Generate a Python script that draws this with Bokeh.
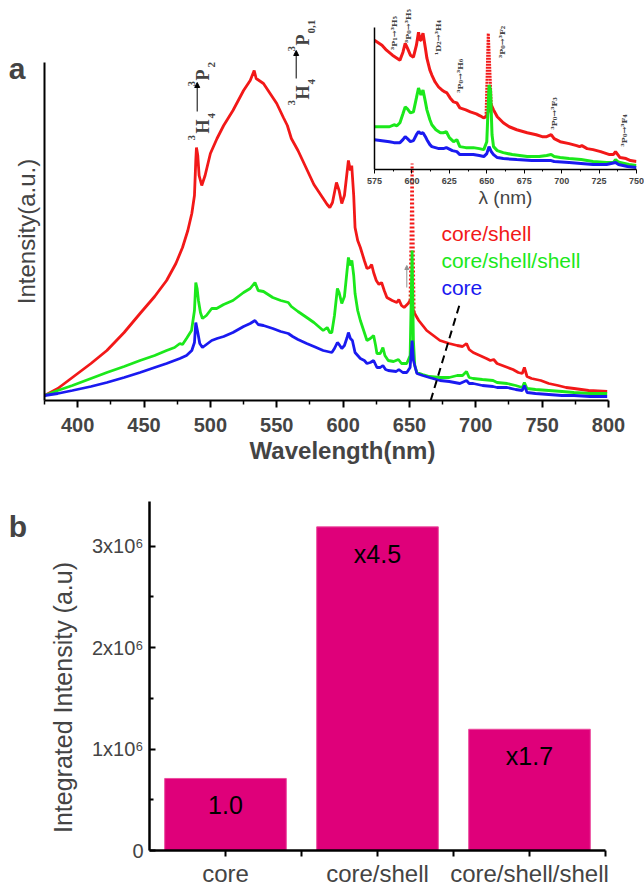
import math
from bokeh.plotting import figure
from bokeh.models import Range1d, FixedTicker, Label, Arrow, NormalHead
from bokeh.embed import file_html
from bokeh.resources import INLINE
from bokeh.core.properties import value

# ---------------- data: panel a (main spectra) ----------------
red_x = [375, 385, 396, 410, 422, 435, 447, 458, 467, 474, 479, 483, 486, 488, 489, 489.5, 490.5, 491.5, 493.5, 496,
         500, 505, 510, 517, 525, 530, 533, 534.5, 540, 545, 550, 555, 558, 561, 566, 572, 578, 585, 588, 590,
         592, 595, 597, 599, 601, 604, 605.5, 606.5, 608, 609, 611, 613, 616, 618, 620, 621.5, 623, 625, 627, 629,
         631, 633, 637, 640.5, 642, 644, 646, 649, 650.5, 653.5, 657, 660, 663, 668, 673, 680, 686, 690, 693, 695,
         698, 703, 708, 711, 713.5, 716, 720, 724, 728, 732, 735, 736.6, 738.6, 742, 749, 755, 762, 768, 774, 785, 799]
red_y = [5, 12, 23, 37, 50, 68, 87, 104, 120, 137, 153, 170, 187, 205, 240, 253, 245, 225, 215, 225,
         247, 262, 275, 290, 310, 320, 330, 322, 317, 307, 297, 283, 275, 262, 250, 233, 216, 202, 196, 193,
         198, 218, 210, 197, 205, 240, 230, 235, 205, 173, 160, 153, 140, 132, 133, 136, 128, 120, 116, 118,
         110, 103, 100, 98, 101, 95, 93, 97, 100, 88, 80, 75, 70, 65, 60, 57, 55, 54, 57, 51,
         48, 45, 42, 40, 41, 37, 35, 33, 31, 28, 27, 33, 24, 22, 20, 17, 15, 13, 12, 10, 9]
red_spike_x = [650.5, 652, 653.5]
red_spike_y = [100, 237, 88]

green_x = [375, 385, 396, 410, 422, 435, 447, 458, 467, 473, 477, 479, 482, 485.8, 488, 489, 490, 491, 492.5, 494,
           497, 501, 504.7, 510, 517, 525, 530, 533.6, 536, 540, 547, 553, 558.7, 561, 566, 572.6, 578, 585, 588, 590,
           591.5, 593.5, 595.7, 597, 599, 601, 603, 604, 605.5, 606.6, 608, 609, 611, 613, 615, 618, 620.5, 623, 624.5, 625.5,
           628, 630, 631.5, 634, 638, 641.7, 644, 648, 650.5, 652, 653, 654, 655.6, 660, 665, 673, 680, 686, 690, 693,
           695, 698, 705, 713, 716, 723.6, 730, 735, 736.6, 738.6, 745, 755, 765, 774, 786, 799]
green_y = [5, 10, 15, 22, 28, 34, 40, 45, 50, 53, 57, 56, 62, 70, 90, 118, 112, 100, 88, 82,
           85, 92, 92, 96, 100, 108, 112, 118, 110, 109, 103, 100, 98, 94, 89, 83, 78, 70, 73, 68,
           68, 85, 112, 108, 97, 104, 130, 143, 135, 140, 125, 107, 90, 80, 72, 60, 62, 65, 55, 47,
           47, 53, 45, 40, 39, 41, 37, 37, 45, 150, 60, 35, 28, 26, 24, 23, 23, 25, 25, 29,
           23, 22, 21, 20, 18, 17, 15, 13, 18, 12, 11, 10, 9, 8, 7, 7]

blue_x = [375, 385, 396, 410, 422, 435, 447, 458, 467, 477, 482, 486, 488, 489, 490.5, 492, 494, 497, 501, 505,
          510, 517, 525, 530, 533.6, 536, 540, 547, 553, 558.7, 562, 566, 572.6, 578, 585, 591.5, 593.5, 595.7, 597, 599,
          601, 603, 604, 605.5, 607, 609, 611, 613, 616, 618, 620.5, 623, 625.5, 628, 630, 632, 634, 640, 642, 645,
          648, 650.5, 652, 653, 655.6, 660, 665, 673, 680, 688, 693, 695, 698, 705, 713, 716, 723.6, 730, 735, 736.6,
          738.6, 745, 755, 765, 774, 786, 799]
blue_y = [5, 7, 10, 14, 18, 23, 28, 33, 37, 42, 45, 50, 58, 78, 68, 57, 53, 56, 60, 62,
          64, 68, 74, 77, 80, 76, 75, 72, 69, 67, 64, 61, 57, 54, 50, 48, 52, 58, 56, 52,
          55, 63, 68, 62, 60, 48, 45, 42, 40, 37, 38, 40, 33, 33, 35, 31, 30, 29, 31, 28,
          28, 33, 60, 40, 27, 25, 23, 20, 19, 17, 20, 17, 17, 15, 14, 13, 13, 11, 10, 15,
          8, 7, 6, 5, 5, 4, 4]

dash_x = [666, 688]
dash_y = [0, 97]

x_ticks = [400, 450, 500, 550, 600, 650, 700, 750, 800]
x_minor = [375, 425, 475, 525, 575, 625, 675, 725, 775]

# ---------------- data: inset ----------------
ired_x = [575, 580, 583, 587, 590, 592, 594, 595.5, 597, 599, 601, 603, 604.4, 605.5, 606, 607.4, 609, 610, 612, 613.3,
          615.5, 617.8, 620, 622, 623.4, 625.5, 627.8, 630, 632, 636, 639, 641, 643, 645.5, 647.8, 649.5, 653, 654.5, 657, 661,
          665, 670, 677, 683, 687, 690, 693, 695, 699, 705, 710, 712, 713.5, 717, 721, 726, 732, 734.5, 736, 737.5,
          739, 743, 746, 750]
ired_y = [130, 125, 120, 115, 112, 110, 118, 127, 122, 115, 113, 125, 138, 130, 130, 137, 122, 112, 100, 95,
          88, 83, 80, 78, 77, 72, 68, 67, 62, 60, 58, 57, 56, 54, 52, 53, 65, 60, 53, 47,
          43, 40, 37, 35, 33, 33, 35, 31, 28, 26, 24, 23, 24, 21, 20, 18, 15, 15, 18, 15,
          12, 11, 9, 8]
ired_spike_x = [649.5, 651, 653]
ired_spike_y = [53, 137, 65]

igreen_x = [575, 580, 585, 588, 590, 592, 594, 595.5, 597, 599, 601, 603, 604.4, 606, 607.4, 609, 610, 612, 613.3, 616,
            619, 621, 623, 625, 627.8, 630, 632, 636, 641, 645, 648, 650, 651.5, 652.5, 653.5, 654.5, 657, 661, 667, 677,
            685, 690, 693, 695, 699, 705, 713, 721, 730, 734.5, 736, 737.5, 739, 745, 750]
igreen_y = [43, 43, 43, 45, 44, 47, 56, 63, 61, 57, 58, 72, 82, 75, 80, 68, 60, 50, 45, 40,
            37, 37, 38, 32, 28, 30, 23, 22, 22, 21, 20, 28, 85, 80, 35, 23, 19, 17, 15, 13,
            13, 14, 15, 13, 12, 11, 10, 8, 7, 7, 10, 8, 7, 5, 4]

iblue_x = [575, 580, 585, 588, 592, 594, 595.5, 597, 599, 601, 603, 604.4, 606, 607.4, 609, 610, 612, 613.3, 618, 621,
           623, 627, 630, 632, 637, 641, 645, 648, 650, 651.5, 653, 654.5, 657, 661, 670, 680, 690, 693, 695, 705,
           713, 721, 730, 736, 738, 744, 750]
iblue_y = [30, 29, 28, 27, 27, 30, 33, 31, 28, 29, 35, 38, 36, 37, 33, 30, 25, 23, 21, 21,
           22, 19, 18, 15, 15, 15, 14, 13, 16, 23, 18, 15, 12, 11, 10, 9, 9, 9, 8, 7,
           6, 5, 5, 7, 5, 3, 2]

inset_ticks = [575, 600, 625, 650, 675, 700, 725, 750]
inset_minor = [587.5, 612.5, 637.5, 662.5, 687.5, 712.5, 737.5]

# ---------------- data: panel b ----------------
categories = ["core", "core/shell", "core/shell/shell"]
integrated = [0.71e6, 3.19e6, 1.195e6]
bar_labels = ["1.0", "x4.5", "x1.7"]
y_tick_vals = [0, 1e6, 2e6, 3e6]
y_tick_labels = ["0", "1x10\u2076", "2x10\u2076", "3x10\u2076"]
y_minor_vals = [0.5e6, 1.5e6, 2.5e6]

RED = "#F21818"
GREEN = "#1BE81B"
BLUE = "#1A1AF0"
SANS = "Liberation Sans"
SERIF = "Liberation Serif"
ANG = math.pi / 2
PAGE_W, PAGE_H = 644, 889

# ======================= panel a =======================
p1 = figure(width=644, height=472, x_range=Range1d(375, 824.1), y_range=Range1d(0, 338),
            output_backend="svg", toolbar_location=None,
            min_border_left=44, min_border_right=4, min_border_top=62, min_border_bottom=72)
p1.outline_line_color = None
p1.grid.visible = False
p1.background_fill_alpha = 0
p1.border_fill_alpha = 0

xa = p1.xaxis[0]
xa.ticker = FixedTicker(ticks=x_ticks, minor_ticks=x_minor)
xa.bounds = (375, 800)
xa.axis_line_width = 2
xa.major_tick_line_width = 2
xa.minor_tick_line_width = 1.5
xa.major_tick_out = 7
xa.major_tick_in = 0
xa.minor_tick_out = 4
xa.minor_tick_in = 0
xa.major_label_text_font = SANS
xa.major_label_text_font_style = "bold"
xa.major_label_text_font_size = "20px"
xa.major_label_standoff = 10
xa.axis_label = "Wavelength(nm)"
xa.axis_label_text_font = SANS
xa.axis_label_text_font_style = "bold"
xa.axis_label_text_font_size = "24px"
xa.axis_label_standoff = 2

ya = p1.yaxis[0]
ya.ticker = FixedTicker(ticks=[])
ya.major_label_text_font_size = "0px"
ya.major_tick_out = 0
ya.minor_tick_out = 0
ya.axis_line_width = 2
ya.axis_label = "Intensity(a.u.)"
ya.axis_label_text_font = SANS
ya.axis_label_text_font_style = "normal"
ya.axis_label_text_font_size = "24px"
ya.axis_label_standoff = 5

p1.line(red_x, red_y, line_color=RED, line_width=2.8)
p1.line(red_spike_x, red_spike_y, line_color=RED, line_width=3, line_dash="2 2")
p1.line(green_x, green_y, line_color=GREEN, line_width=2.8)
p1.line(blue_x, blue_y, line_color=BLUE, line_width=2.8)
p1.line(dash_x, dash_y, line_color="black", line_width=2, line_dash="8 5")

p1.add_layout(Arrow(x_start=648, y_start=113, x_end=648, y_end=135, line_color="#909090", line_width=1,
                    end=NormalHead(size=4, fill_color="#909090", line_color="#909090")))

for txt, col, yy in [("core/shell", RED, 167), ("core/shell/shell", GREEN, 140), ("core", BLUE, 113)]:
    p1.add_layout(Label(x=674.1, y=yy, text=txt, text_color=col, text_font=SANS, text_font_size="21px",
                        text_align="left", text_baseline="middle"))

# ======================= inset =======================
p2 = figure(width=284, height=210, x_range=Range1d(575, 750), y_range=Range1d(0, 170),
            output_backend="svg", toolbar_location=None,
            min_border_left=14, min_border_right=8, min_border_top=0, min_border_bottom=40)
p2.outline_line_color = None
p2.grid.visible = False
p2.background_fill_alpha = 0
p2.border_fill_alpha = 0
p2.margin = (-472, 0, 0, 360)

ia = p2.xaxis[0]
ia.ticker = FixedTicker(ticks=inset_ticks, minor_ticks=inset_minor)
ia.axis_line_width = 1.5
ia.major_tick_out = 4
ia.major_tick_in = 0
ia.minor_tick_out = 2
ia.minor_tick_in = 0
ia.major_label_text_font = SANS
ia.major_label_text_font_style = "bold"
ia.major_label_text_font_size = "9px"
ia.major_label_standoff = 4
ia.axis_label = "\u03bb (nm)"
ia.axis_label_text_font = SANS
ia.axis_label_text_font_style = "normal"
ia.axis_label_text_font_size = "19px"
ia.axis_label_standoff = 0

iy = p2.yaxis[0]
iy.ticker = FixedTicker(ticks=[])
iy.bounds = (0, 143)
iy.major_label_text_font_size = "0px"
iy.major_tick_out = 0
iy.minor_tick_out = 0
iy.axis_line_width = 1.5

p2.line(ired_x, ired_y, line_color=RED, line_width=3)
p2.line(ired_spike_x, ired_spike_y, line_color=RED, line_width=3, line_dash="2 1")
p2.line(igreen_x, igreen_y, line_color=GREEN, line_width=3)
p2.line(iblue_x, iblue_y, line_color=BLUE, line_width=3)

inset_notes = [("\u00b3P\u2081\u2192\u00b3H\u2085", 587.8, 120),
               ("\u00b3P\u2080\u2192\u00b3H\u2085", 597.7, 127),
               ("\u00b9D\u2082\u2192\u00b3H\u2084", 617.2, 115),
               ("\u00b3P\u2080\u2192\u00b3H\u2086", 632.0, 77),
               ("\u00b3P\u2080\u2192\u00b3F\u2082", 660.3, 112),
               ("\u00b3P\u2080\u2192\u00b3F\u2083", 694.6, 40),
               ("\u00b3P\u2080\u2192\u00b3F\u2084", 741.7, 23)]
for txt, x, y in inset_notes:
    p2.add_layout(Label(x=x, y=y, text=txt, angle=ANG, text_font="DejaVu Serif", text_font_style="bold",
                        text_font_size="8px", text_align="left", text_baseline="alphabetic"))

# ======================= panel b =======================
bar_x = [i + 0.5 for i in range(len(categories))]
bnd = [float(i) for i in range(1, len(categories) + 1)]

p3 = figure(width=644, height=417, x_range=Range1d(0, len(categories)), y_range=Range1d(0, 3.44e6),
            output_backend="svg", toolbar_location=None,
            min_border_left=149, min_border_right=39, min_border_top=29, min_border_bottom=38)
p3.margin = (262, 0, 0, 0)
p3.outline_line_color = None
p3.grid.visible = False

p3.vbar(x=bar_x, top=integrated, width=0.8, fill_color="#DF007A", line_color="#EC4C9E", line_width=1)
p3.text(x=bar_x, y=integrated, text=bar_labels, text_align="center", text_baseline="middle",
        y_offset=27, text_font=value(SANS), text_font_size="25px", text_color="black")

bx = p3.xaxis[0]
bx.ticker = FixedTicker(ticks=bar_x, minor_ticks=bnd)
bx.major_label_overrides = {x: c for x, c in zip(bar_x, categories)}
bx.axis_line_width = 2.5
bx.major_tick_line_width = 2
bx.minor_tick_line_width = 2
bx.major_tick_out = 6
bx.major_tick_in = 0
bx.minor_tick_out = 6
bx.minor_tick_in = 0
bx.major_label_text_font = SANS
bx.major_label_text_font_style = "normal"
bx.major_label_text_font_size = "24px"
bx.major_label_standoff = 3

by = p3.yaxis[0]
by.ticker = FixedTicker(ticks=y_tick_vals, minor_ticks=y_minor_vals)
by.major_label_overrides = {v: t for v, t in zip(y_tick_vals, y_tick_labels)}
by.axis_line_width = 2.5
by.major_tick_line_width = 2
by.minor_tick_line_width = 2
by.major_tick_in = 6
by.major_tick_out = 0
by.minor_tick_in = 4
by.minor_tick_out = 0
by.major_label_text_font = SANS
by.major_label_text_font_style = "normal"
by.major_label_text_font_size = "20px"
by.major_label_standoff = 6

# ======================= free text overlay (page pixel coords) =======================
p0 = figure(width=PAGE_W, height=PAGE_H, x_range=Range1d(0, PAGE_W), y_range=Range1d(0, PAGE_H),
            x_axis_location=None, y_axis_location=None, output_backend="svg", toolbar_location=None,
            min_border=0)
p0.outline_line_color = None
p0.grid.visible = False
p0.background_fill_alpha = 0
p0.border_fill_alpha = 0
p0.margin = (-PAGE_H, 0, 0, 0)


def page_label(text, px, py, size, style="normal", font=SANS, angle=0.0, align="center", baseline="middle"):
    p0.add_layout(Label(x=px, y=PAGE_H - py, text=text, text_font=font, text_font_style=style,
                        text_font_size=size, angle=angle, text_align=align, text_baseline=baseline))


def page_arrow(px, py0, py1):
    p0.add_layout(Arrow(x_start=px, y_start=PAGE_H - py0, x_end=px, y_end=PAGE_H - py1, line_width=1,
                        line_color="black", end=NormalHead(size=5, fill_color="black", line_color="black")))


page_label("a", 16.5, 67.5, "30px", "bold")
page_label("b", 17.5, 526, "30px", "bold")
page_label("Integrated Intensity (a.u)", 62, 697, "25px", angle=ANG)

# 3H4 -> 3P2 transition (rotated, reading upward)
for txt, px, py, size in [("3", 190.5, 140, "11px"), ("H", 202, 133, "18px"), ("4", 211, 118, "11px"),
                          ("3", 190.5, 86, "11px"), ("P", 202, 80, "18px"), ("2", 211, 67, "11px")]:
    page_label(txt, px, py, size, "bold", SERIF, ANG, "left", "alphabetic")
page_arrow(196.7, 111, 82)

# 3H4 -> 3P0,1 transition
for txt, px, py, size in [("3", 290.5, 105, "11px"), ("H", 302, 99, "18px"), ("4", 311, 84, "11px"),
                          ("3", 290.5, 51, "11px"), ("P", 302, 45, "18px"), ("0,1", 311, 33, "11px")]:
    page_label(txt, px, py, size, "bold", SERIF, ANG, "left", "alphabetic")
page_arrow(295.7, 78, 50)

open("out.html", "w").write(file_html([p1, p2, p3, p0], INLINE))
